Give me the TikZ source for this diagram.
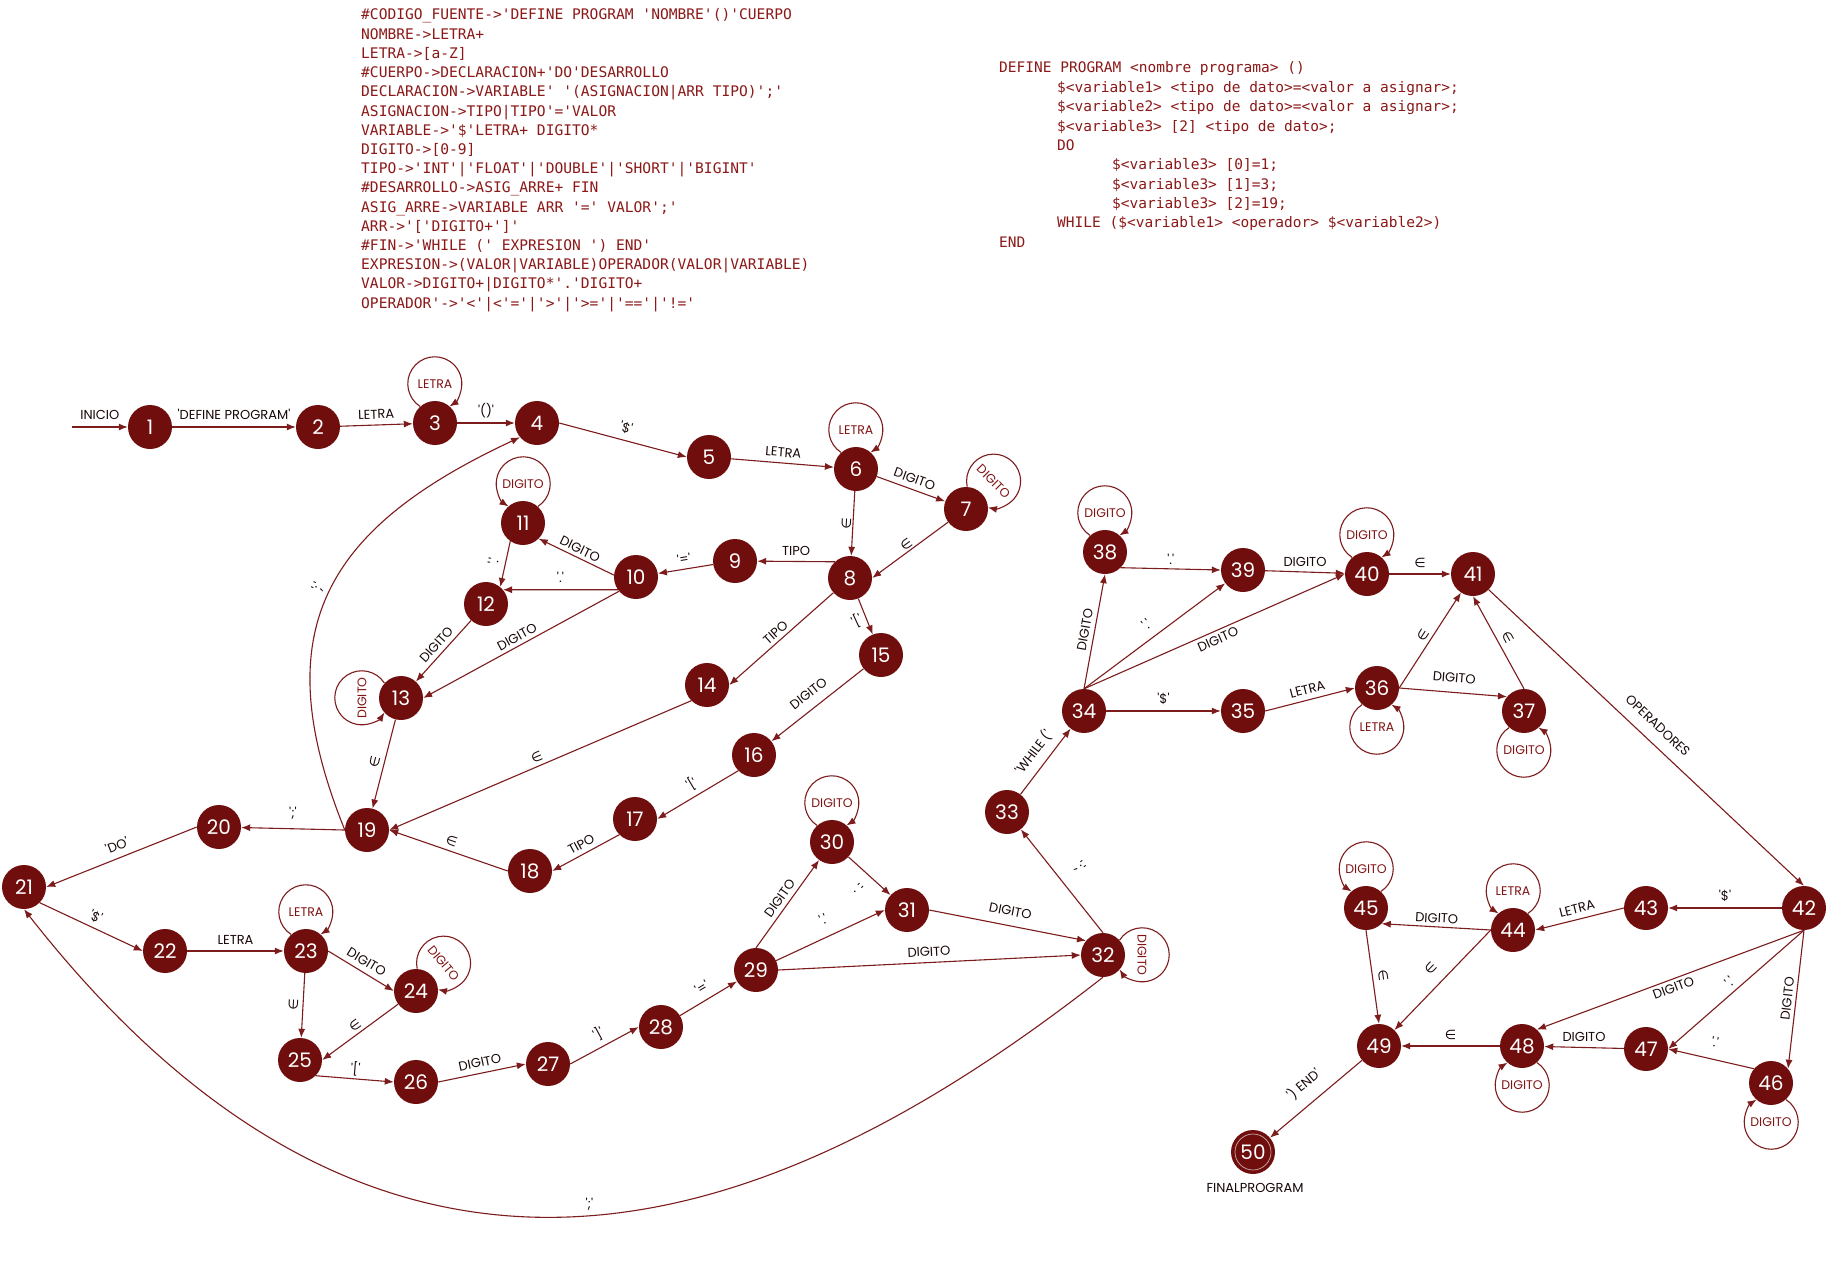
\documentclass[tikz,border=0pt]{standalone}
\usepackage{fontspec}
\setmonofont{DejaVu Sans Mono}
\newfontfamily\pop{Poppins}
\newfontfamily\djv{DejaVu Sans}
\usetikzlibrary{arrows.meta}
\definecolor{nodefill}{RGB}{112,14,14}
\definecolor{conncol}{RGB}{125,28,28}
\definecolor{labcol}{RGB}{25,8,8}
\definecolor{looplabcol}{RGB}{128,20,20}
\definecolor{codecol}{RGB}{140,24,24}
\newcommand\epsl{{\djv ∈}}
\newcommand\lpcw[4][0]{%
  \draw[conn] ([shift={(#3+42:22.3)}]#2.center) arc[start angle=#3+147, end angle=#3-147, radius=27];
  \node[looplab, rotate=#1] (#2lab) at ([shift={(#3:39)}]#2.center) {#4};}
\newcommand\lpccw[4][0]{%
  \draw[conn] ([shift={(#3-42:22.3)}]#2.center) arc[start angle=#3-147, end angle=#3+147, radius=27];
  \node[looplab, rotate=#1] (#2lab) at ([shift={(#3:39)}]#2.center) {#4};}
\tikzset{
  st/.style={circle, fill=nodefill, minimum size=44pt, inner sep=0pt, text=white, font=\pop\fontsize{20}{20}\selectfont},
  conn/.style={draw=conncol, line width=1.1pt, -{Latex[length=9pt,width=7pt]}},
  lab/.style={font=\pop\fontsize{13}{13}\selectfont, text=labcol, inner sep=1.5pt},
  looplab/.style={font=\pop\fontsize{12.5}{12.5}\selectfont, text=looplabcol, inner sep=0pt},
  code/.style={anchor=base west, inner sep=0pt, text=codecol, font=\ttfamily\fontsize{14.6}{14.6}\selectfont},
  codeb/.style={anchor=base west, inner sep=0pt, text=codecol, font=\ttfamily\fontsize{14.5}{14.5}\selectfont}
}
\begin{document}
\begin{tikzpicture}[x=1pt,y=1pt]
\useasboundingbox (0,0) rectangle (1830,-1263);
\fill[white] (0,0) rectangle (1830,-1263);
% grammar text
\node[code] (c1) at (361,-20) {\#CODIGO\_FUENTE->'DEFINE PROGRAM 'NOMBRE'()'CUERPO};
\node[code] (c2) at (361,-39.2) {NOMBRE->LETRA+};
\node[code] (c3) at (361,-58.4) {LETRA->[a-Z]};
\node[code] (c4) at (361,-77.6) {\#CUERPO->DECLARACION+'DO'DESARROLLO};
\node[code] (c5) at (361,-96.8) {DECLARACION->VARIABLE' '(ASIGNACION|ARR TIPO)';'};
\node[code] (c6) at (361,-116) {ASIGNACION->TIPO|TIPO'='VALOR};
\node[code] (c7) at (361,-135.2) {VARIABLE->'\$'LETRA+ DIGITO*};
\node[code] (c8) at (361,-154.4) {DIGITO->[0-9]};
\node[code] (c9) at (361,-173.6) {TIPO->'INT'|'FLOAT'|'DOUBLE'|'SHORT'|'BIGINT'};
\node[code] (c10) at (361,-192.8) {\#DESARROLLO->ASIG\_ARRE+ FIN};
\node[code] (c11) at (361,-212) {ASIG\_ARRE->VARIABLE ARR '=' VALOR';'};
\node[code] (c12) at (361,-231.2) {ARR->'['DIGITO+']'};
\node[code] (c13) at (361,-250.4) {\#FIN->'WHILE (' EXPRESION ') END'};
\node[code] (c14) at (361,-269.6) {EXPRESION->(VALOR|VARIABLE)OPERADOR(VALOR|VARIABLE)};
\node[code] (c15) at (361,-288.8) {VALOR->DIGITO+|DIGITO*'.'DIGITO+};
\node[code] (c16) at (361,-308) {OPERADOR'->'<'|<'='|'>'|'>='|'=='|'!='};
% example program
\node[codeb] (d1) at (999,-73) {DEFINE PROGRAM <nombre programa> ()};
\node[codeb] (d2) at (1057,-92.3) {\$<variable1> <tipo de dato>=<valor a asignar>;};
\node[codeb] (d3) at (1057,-111.7) {\$<variable2> <tipo de dato>=<valor a asignar>;};
\node[codeb] (d4) at (1057,-131) {\$<variable3> [2] <tipo de dato>;};
\node[codeb] (d5) at (1057,-150.3) {DO};
\node[codeb] (d6) at (1112,-169.7) {\$<variable3> [0]=1;};
\node[codeb] (d7) at (1112,-189) {\$<variable3> [1]=3;};
\node[codeb] (d8) at (1112,-208.3) {\$<variable3> [2]=19;};
\node[codeb] (d9) at (1057,-227.7) {WHILE (\$<variable1> <operador> \$<variable2>)};
\node[codeb] (d10) at (999,-247) {END};
% states
\node[st] (n1) at (150,-427) {1};
\node[st] (n2) at (318,-427) {2};
\node[st] (n3) at (435,-423) {3};
\node[st] (n4) at (537,-423) {4};
\node[st] (n5) at (709,-457) {5};
\node[st] (n6) at (856,-469) {6};
\node[st] (n7) at (966,-509) {7};
\node[st] (n8) at (850,-578) {8};
\node[st] (n9) at (735,-561) {9};
\node[st] (n10) at (636,-577) {10};
\node[st] (n11) at (523,-523) {11};
\node[st] (n12) at (486,-604) {12};
\node[st] (n13) at (401,-698) {13};
\node[st] (n14) at (707,-685) {14};
\node[st] (n15) at (881,-655) {15};
\node[st] (n16) at (754,-755) {16};
\node[st] (n17) at (635,-819) {17};
\node[st] (n18) at (530,-871) {18};
\node[st] (n19) at (367,-830) {19};
\node[st] (n20) at (219,-827) {20};
\node[st] (n21) at (24,-887) {21};
\node[st] (n22) at (165,-951) {22};
\node[st] (n23) at (306,-951) {23};
\node[st] (n24) at (416,-991) {24};
\node[st] (n25) at (300,-1060) {25};
\node[st] (n26) at (416,-1082) {26};
\node[st] (n27) at (548,-1064) {27};
\node[st] (n28) at (661,-1027) {28};
\node[st] (n29) at (756,-970) {29};
\node[st] (n30) at (832,-842) {30};
\node[st] (n31) at (907,-910) {31};
\node[st] (n32) at (1103,-955) {32};
\node[st] (n33) at (1007,-812) {33};
\node[st] (n34) at (1084,-711) {34};
\node[st] (n35) at (1243,-711) {35};
\node[st] (n36) at (1377,-688) {36};
\node[st] (n37) at (1524,-711) {37};
\node[st] (n38) at (1105,-552) {38};
\node[st] (n39) at (1243,-570) {39};
\node[st] (n40) at (1367,-574) {40};
\node[st] (n41) at (1473,-574) {41};
\node[st] (n42) at (1804,-908) {42};
\node[st] (n43) at (1646,-908) {43};
\node[st] (n44) at (1513,-930) {44};
\node[st] (n45) at (1366,-908) {45};
\node[st] (n46) at (1771,-1083) {46};
\node[st] (n47) at (1646,-1049) {47};
\node[st] (n48) at (1522,-1046) {48};
\node[st] (n49) at (1379,-1046) {49};
\node[st] (n50) at (1253,-1152) {50};
\draw[white!65!nodefill, line width=0.7pt] (n50.center) circle[radius=18];
\node[lab] (fin) at (1255,-1188) {FINALPROGRAM};
\coordinate (st0) at (72,-427);
% loops
\lpcw{n3}{90}{LETRA}
\lpcw{n6}{90}{LETRA}
\lpcw[-45]{n7}{45}{DIGITO}
\lpccw{n11}{90}{DIGITO}
\lpccw[90]{n13}{180}{DIGITO}
\lpcw{n23}{90}{LETRA}
\lpcw[-50]{n24}{45}{DIGITO}
\lpcw{n30}{90}{DIGITO}
\lpcw[-90]{n32}{0}{DIGITO}
\lpcw{n38}{90}{DIGITO}
\lpcw{n40}{90}{DIGITO}
\lpccw{n36}{-90}{LETRA}
\lpccw{n37}{-90}{DIGITO}
\lpccw{n45}{90}{DIGITO}
\lpccw{n44}{90}{LETRA}
\lpcw{n48}{-90}{DIGITO}
\lpcw{n46}{-90}{DIGITO}
% transitions
\draw[conn] (st0) -- node[lab,above=5pt] {INICIO} (n1);
\draw[conn] (n1) -- node[lab,above=5pt] {'DEFINE PROGRAM'} (n2);
\draw[conn] (n2) -- node[lab,sloped,above=4pt] {LETRA} (n3);
\draw[conn] (n3) -- node[lab,above=3pt] {'()'} (n4);
\draw[conn] (n4.east) -- node[lab,sloped,above=5pt] {'\$'} (n5.west);
\draw[conn] (n5) -- node[lab,sloped,above=4pt] {LETRA} (n6);
\draw[conn] (n6) -- node[lab,sloped,above=4pt] {DIGITO} (n7);
\draw[conn] (n6) -- node[lab,sloped,above] {\epsl} (n8);
\draw[conn] (n7) -- node[lab,sloped,above] {\epsl} (n8.east);
\draw[conn] (n8.133) -- node[lab,above=4pt] {TIPO} (n9);
\draw[conn] (n9) -- node[lab,sloped,above=3pt] {'='} (n10);
\draw[conn] (n10.175) -- node[lab,sloped,above=2pt] {DIGITO} (n11.-45);
\draw[conn] (n10.215) -- node[lab,sloped,above=5pt] {'.'} (n12.40);
\draw[conn] (n11.235) -- node[lab,sloped,above=5pt] {'.'} (n12.50);
\draw[conn] (n12) -- node[lab,sloped,above=3pt] {DIGITO} (n13);
\draw[conn] (n10.220) -- node[lab,sloped,above=2pt] {DIGITO} (n13.east);
\draw[conn] (n13) -- node[lab,sloped,above=3pt] {\epsl} (n19);
\draw[conn] (n8) -- node[lab,sloped,above=2pt] {TIPO} (n14.east);
\draw[conn] (n14.225) -- node[lab,sloped,above=2pt] {\epsl} (n19.east);
\draw[conn] (n8) -- node[lab,rotate=25,left=3pt] {'['} (n15);
\draw[conn] (n15) -- node[lab,sloped,above=8pt] {DIGITO} (n16);
\draw[conn] (n16.225) -- node[lab,sloped,above=3pt] {'['} (n17.east);
\draw[conn] (n17.225) -- node[lab,sloped,above=3pt] {TIPO} (n18.east);
\draw[conn] (n18.west) -- node[lab,sloped,above=3pt] {\epsl} (n19.east);
\draw[conn] (n19.west) -- node[lab,above=7pt] {';'} (n20);
\draw[conn] (n19.west) to[out=112,in=205,looseness=1.28] node[lab,sloped,above=4pt] {';'} (n4.220);
\draw[conn] (n20.west) -- node[lab,sloped,above=5pt] {'DO'} (n21.east);
\draw[conn] (n21.-45) -- node[lab,sloped,above=3pt] {'\$'} (n22.west);
\draw[conn] (n22) -- node[lab,above=4pt] {LETRA} (n23);
\draw[conn] (n23.east) -- node[lab,sloped,above=4pt] {DIGITO} (n24.west);
\draw[conn] (n23) -- node[lab,sloped,above=3pt] {\epsl} (n25);
\draw[conn] (n24) -- node[lab,sloped,above=2pt] {\epsl} (n25.east);
\draw[conn] (n25.-45) -- node[lab,sloped,above=1pt] {'['} (n26.west);
\draw[conn] (n26.east) -- node[lab,sloped,above=4pt] {DIGITO} (n27.west);
\draw[conn] (n27.east) -- node[lab,sloped,above=4pt] {']'} (n28.west);
\draw[conn] (n28) -- node[lab,sloped,above=6pt] {'='} (n29);
\draw[conn] (n29.north) -- node[lab,sloped,above=3pt] {DIGITO} (n30);
\draw[conn] (n29) -- node[lab,sloped,above=10pt] {'.'} (n31.west);
\draw[conn] (n30) -- node[lab,sloped,below=10pt] {'.'} (n31);
\draw[conn] (n31.east) -- node[lab,sloped,above=8pt] {DIGITO} (n32.140);
\draw[conn] (n29.east) -- node[lab,sloped,above=4pt] {DIGITO} (n32.west);
\draw[conn] (n32.north) -- node[lab,sloped,above=14pt] {';'} (n33);
\draw[conn] (n32.south) .. controls (794,-1219) and (402,-1392) .. node[lab,above=3pt] {';'} (n21.south);
\draw[conn] (n33) -- node[lab,sloped,above=6pt] {'WHILE ('} (n34);
\draw[conn] (n34.north) -- node[lab,sloped,above=3pt] {DIGITO} (n38.south);
\draw[conn] (n38.-45) -- node[lab,above=2pt] {'.'} (n39.west);
\draw[conn] (n34.north) -- node[lab,sloped,above=7pt] {'.'} (n39);
\draw[conn] (n34.north) -- node[lab,sloped,below=2pt] {DIGITO} (n40.west);
\draw[conn] (n39) -- node[lab,above=3pt] {DIGITO} (n40);
\draw[conn] (n40) -- node[lab,above=4pt] {\epsl} (n41);
\draw[conn] (n34) -- node[lab,above=4pt] {'\$'} (n35);
\draw[conn] (n35.east) -- node[lab,sloped,above=4pt] {LETRA} (n36.west);
\draw[conn] (n36.east) -- node[lab,sloped,above=8pt] {DIGITO} (n37.140);
\draw[conn] (n36.east) -- node[lab,sloped,above=2pt] {\epsl} (n41);
\draw[conn] (n37.north) -- node[lab,sloped,above=4pt] {\epsl} (n41.south);
\draw[conn] (n41.-45) -- node[lab,sloped,above=10pt] {OPERADORES} (n42.north);
\draw[conn] (n42) -- node[lab,above=4pt] {'\$'} (n43);
\draw[conn] (n43.west) -- node[lab,sloped,above=4pt] {LETRA} (n44.east);
\draw[conn] (n44.west) -- node[lab,sloped,above=2pt] {DIGITO} (n45.-45);
\draw[conn] (n45.south) -- node[lab,sloped,above=4pt] {\epsl} (n49.north);
\draw[conn] (n44.west) -- node[lab,sloped,above=10pt] {\epsl} (n49);
\draw[conn] (n48) -- node[lab,above=4pt] {\epsl} (n49);
\draw[conn] (n42.south) -- node[lab,sloped,below=2pt] {DIGITO} (n48.48);
\draw[conn] (n42.south) -- node[lab,sloped,above=3pt] {'.'} (n47.east);
\draw[conn] (n42.south) -- node[lab,sloped,above=2pt] {DIGITO} (n46.40);
\draw[conn] (n46.140) -- node[lab,sloped,above=10pt] {'.'} (n47.east);
\draw[conn] (n47) -- node[lab,above=4pt] {DIGITO} (n48);
\draw[conn] (n49) -- node[lab,sloped,above=10pt] {') END'} (n50);
\end{tikzpicture}
\end{document}
